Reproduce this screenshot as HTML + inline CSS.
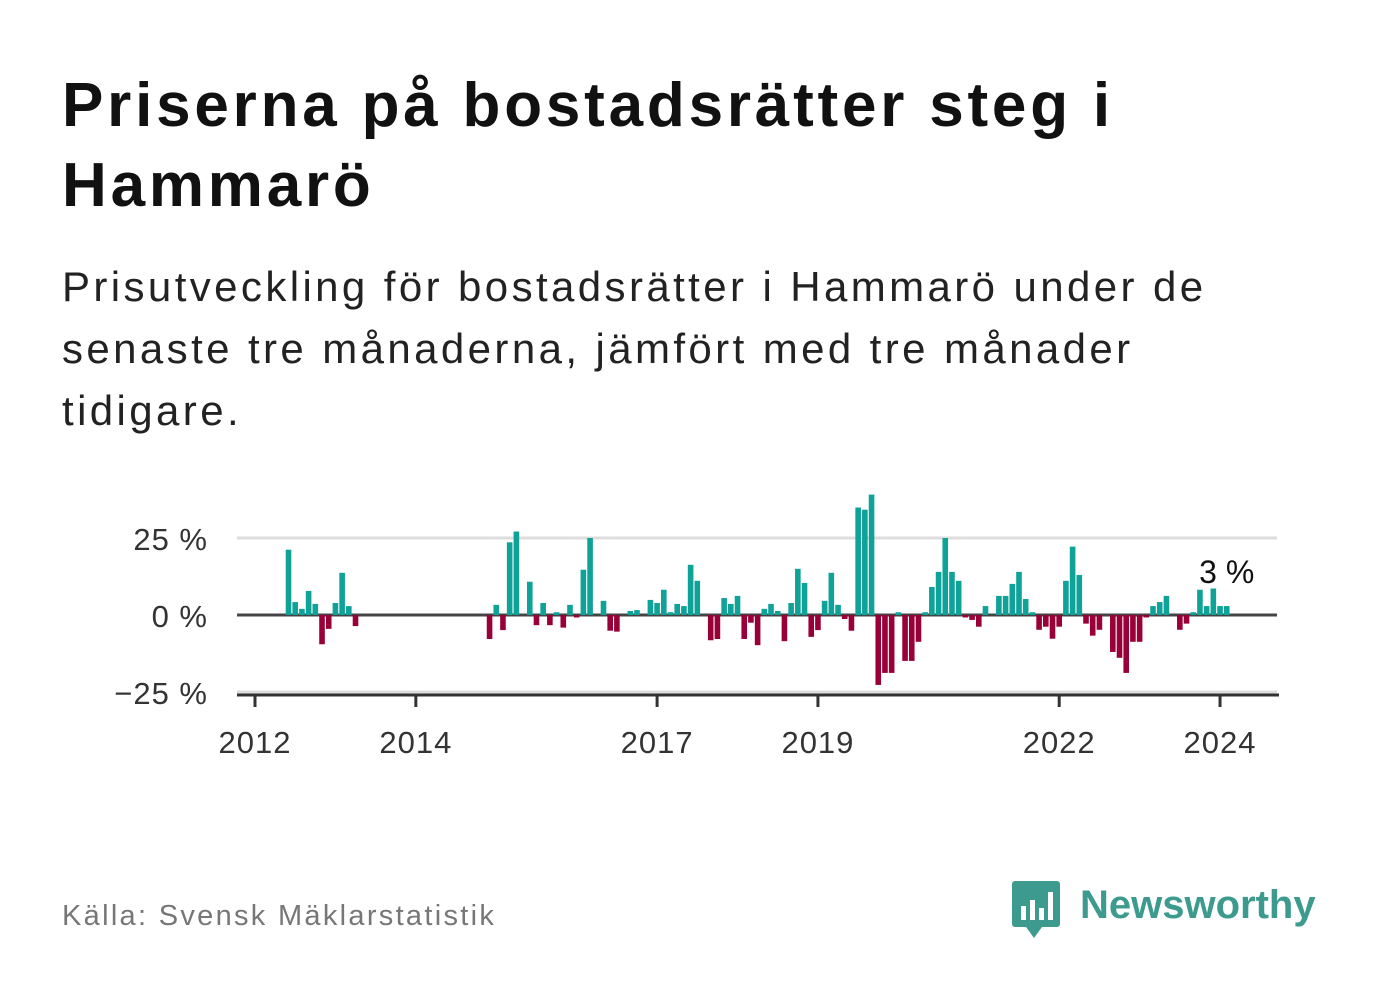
<!DOCTYPE html>
<html><head><meta charset="utf-8"><style>
body{margin:0;width:1382px;height:999px;background:#fff;font-family:"Liberation Sans",sans-serif;overflow:hidden;position:relative}
#title{position:absolute;left:62px;top:66px;font-size:62px;font-weight:bold;line-height:80px;color:#111;letter-spacing:3.8px;white-space:nowrap}
#sub{position:absolute;left:62px;top:256px;font-size:42px;line-height:62px;color:#222;letter-spacing:3.4px;white-space:nowrap}
#src{position:absolute;left:62px;top:900px;font-size:29px;color:#777;letter-spacing:2.3px}
#logo{position:absolute;left:1012px;top:878px}
</style></head><body>
<div id="title">Priserna på bostadsrätter steg i<br>Hammarö</div>
<div id="sub">Prisutveckling för bostadsrätter i Hammarö under de<br>senaste tre månaderna, jämfört med tre månader<br>tidigare.</div>
<svg id="chart" width="1382" height="999" style="position:absolute;left:0;top:0"></svg>
<div id="src">Källa: Svensk Mäklarstatistik</div>
<div id="logo">
<svg width="310" height="62"><rect x="0" y="3" width="48" height="46" rx="3" fill="#3d9a8f"/><polygon points="14,49 30,49 22,60" fill="#3d9a8f"/>
<rect x="9" y="28" width="5" height="14" fill="#fff"/><rect x="18" y="22" width="5" height="20" fill="#fff"/><rect x="27" y="30" width="5" height="12" fill="#fff"/><rect x="36" y="14" width="5" height="28" fill="#fff"/>
<text x="68" y="40" font-size="40" font-weight="bold" fill="#3d9a8f" font-family="Liberation Sans, sans-serif">Newsworthy</text></svg></div>
<script>
const startYear = 2012;
const values = [null,null,null,null,null,21.2,4.2,2.0,7.8,3.6,-9.5,-4.5,3.9,13.7,2.9,-3.6,
null,null,null,null,null,null,null,null,null,null,null,null,null,null,null,null,null,null,null,
-7.8,3.3,-4.9,23.6,27.1,0,10.8,-3.3,3.9,-3.3,0.9,-4.1,3.3,-0.8,14.7,25,0,4.6,-5.1,-5.4,
0,1.3,1.6,0,4.9,3.9,8.2,0.9,3.6,2.9,16.3,11.1,0,-8.2,-7.8,5.5,3.6,6.2,-7.8,-2.5,-9.8,2.0,3.6,1.3,-8.5,3.9,15,10.4,-7.1,-4.9,4.6,13.7,3.3,-1.3,-5.1,34.9,34.2,39.1,-22.7,-18.8,-18.8,0.9,-14.9,-14.9,-8.7,0.9,9.1,14,25,
14,11.1,-0.8,-1.6,-3.8,2.9,0,6.2,6.2,10.1,14,5.2,0.9,-4.8,-3.8,-7.7,-3.8,11.1,22.2,13,-2.8,-6.7,-4.8,0,-12,-13.9,-18.8,-8.7,-8.7,-0.8,2.9,4.2,6.2,0,-4.8,-2.8,0.9,8.2,2.9,8.6,2.9,2.9];
const yTicks = [25,0,-25];
const yTickLabels = ["25 %","0 %","\u221225 %"];
const xTicks = [2012,2014,2017,2019,2022,2024];
const lastLabel = "3 %";
const NS="http://www.w3.org/2000/svg";
const svg=document.getElementById('chart');
const X=y=>255+(y-2012)*80.42;
const xm=i=>X(startYear+i/12);
const Y=v=>615-v*3.08;
function mk(t,a){const e=document.createElementNS(NS,t);for(const k in a)e.setAttribute(k,a[k]);svg.appendChild(e);return e;}
yTicks.forEach((t,i)=>{
 const g=mk('line',{x1:237,x2:1277,y1:Y(t),y2:Y(t),stroke:t===0?'#444':'#ddd','stroke-width':3});
 
 
 const l=mk('text',{x:208,y:Y(t)+12,'text-anchor':'end','font-size':31,fill:'#333','font-family':'Liberation Sans, sans-serif','letter-spacing':1});
 l.textContent=yTickLabels[i];
 
 
});
values.forEach((v,i)=>{
 if(v===null||v===0)return;
 const r=mk('rect',{x:xm(i)-2.8,width:5.6,y:Math.min(Y(v),Y(0)),height:Math.abs(Y(v)-Y(0)),fill:v>0?'#0fa298':'#9a0038'});
 
 
});
const ax=mk('line',{x1:237,x2:1279,y1:695,y2:695,stroke:'#333','stroke-width':3});


xTicks.forEach(t=>{
 const tk=mk('line',{x1:X(t),x2:X(t),y1:695,y2:707,stroke:'#333','stroke-width':3});
 
 
 const l=mk('text',{x:X(t),y:753,'text-anchor':'middle','font-size':31,fill:'#333','font-family':'Liberation Sans, sans-serif','letter-spacing':1});
 l.textContent=t;
 
 
});
const li=values.length-1;
const lb=mk('text',{x:xm(li),y:583,'text-anchor':'middle','font-size':32,fill:'#111','font-family':'Liberation Sans, sans-serif'});
lb.textContent=lastLabel;


</script>
</body></html>
